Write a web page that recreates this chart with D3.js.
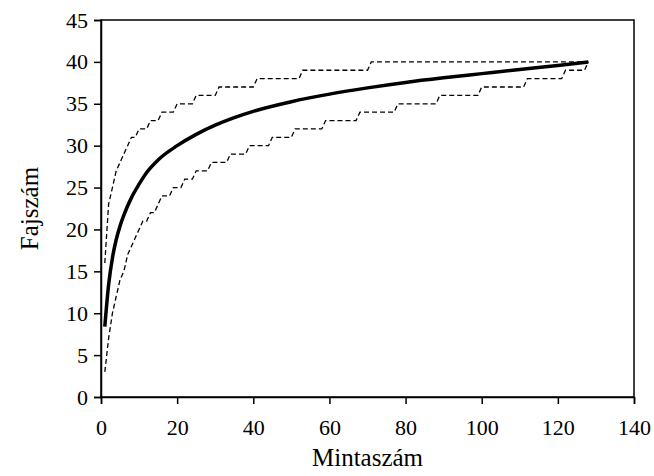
<!DOCTYPE html>
<html>
<head>
<meta charset="utf-8">
<script src="https://cdn.jsdelivr.net/npm/d3@7"></script>
<style>
    body { margin: 0; background: #fff; }
</style>
</head>
<body>
<div id="chart"></div>
<script>
// mean species accumulation curve (sample count, species count)
var meanCurve = [
    [1, 8.4], [2, 13.4], [3, 16.6], [4, 18.8], [5, 20.4], [6, 21.7], [8, 23.8],
    [10, 25.4], [12, 26.8], [15, 28.3], [20, 30.0], [25, 31.35], [30, 32.45],
    [35, 33.35], [40, 34.1], [50, 35.25], [60, 36.15], [70, 36.9], [80, 37.55],
    [90, 38.1], [100, 38.6], [110, 39.1], [120, 39.58], [128, 40]
];

// upper confidence bound (vertices of the step line)
var upperBound = [
    [1, 16], [2, 23], [3, 25], [4, 27], [5, 28], [6, 29], [7, 30], [8, 31],
    [9, 31], [10, 32], [12, 32], [13, 33], [15, 33], [16, 34], [19, 34],
    [20, 35], [24, 35], [25, 36], [30, 36], [31, 37], [40, 37], [41, 38],
    [52, 38], [53, 39], [70, 39], [71, 40], [128, 40]
];

// lower confidence bound (vertices of the step line)
var lowerBound = [
    [1, 3], [2, 7], [3, 10], [4, 12], [5, 14], [6, 15], [7, 17], [8, 18],
    [9, 19], [10, 20], [11, 21], [12, 21], [13, 22], [14, 22], [15, 23],
    [16, 24], [18, 24], [19, 25], [21, 25], [22, 26], [24, 26], [25, 27],
    [28, 27], [29, 28], [33, 28], [34, 29], [38, 29], [39, 30], [44, 30],
    [45, 31], [50, 31], [51, 32], [58, 32], [59, 33], [67, 33], [68, 34],
    [77, 34], [78, 35], [88, 35], [89, 36], [99, 36], [100, 37], [111, 37],
    [112, 38], [121, 38], [122, 39], [127, 39], [128, 40]
];

var xTicks = [0, 20, 40, 60, 80, 100, 120, 140];
var yTicks = [0, 5, 10, 15, 20, 25, 30, 35, 40, 45];
var xTitle = "Mintaszám";
var yTitle = "Fajszám";

var serif = "Liberation Serif";

var margin = { top: 20, right: 20, bottom: 79, left: 101 };
var width = 654 - margin.left - margin.right;
var height = 476 - margin.top - margin.bottom;

var svg = d3.select("#chart").append("svg")
    .attr("width", 654)
    .attr("height", 476)
    .append("g")
    .attr("transform", "translate(" + margin.left + "," + margin.top + ")");

var x = d3.scaleLinear().domain([0, 140]).range([0, width]);
var y = d3.scaleLinear().domain([0, 45]).range([height, 0]);

// frame
svg.append("rect")
    .attr("width", width)
    .attr("height", height)
    .attr("fill", "none")
    .attr("stroke", "#000")
    .attr("stroke-width", 1.5);

// axes
var xAxis = svg.append("g")
    .attr("transform", "translate(0," + height + ")")
    .call(d3.axisBottom(x).tickValues(xTicks).tickSize(7).tickPadding(15));

var yAxis = svg.append("g")
    .call(d3.axisLeft(y).tickValues(yTicks).tickSize(7).tickPadding(6));

[xAxis, yAxis].forEach(function (a) {
    a.attr("font-family", serif).attr("font-size", 22);
    a.select(".domain").attr("stroke", "#000").attr("stroke-width", 1.5);
    a.selectAll(".tick line").attr("stroke", "#000").attr("stroke-width", 1.5);
    a.selectAll(".tick text").attr("fill", "#000");
});

// lines
var line = d3.line()
    .x(function (d) { return x(d[0]); })
    .y(function (d) { return y(d[1]); });

[upperBound, lowerBound].forEach(function (b) {
    svg.append("path")
        .datum(b)
        .attr("d", line)
        .attr("fill", "none")
        .attr("stroke", "#000")
        .attr("stroke-width", 1.3)
        .attr("stroke-dasharray", "5,3");
});

svg.append("path")
    .datum(meanCurve)
    .attr("d", line.curve(d3.curveMonotoneX))
    .attr("fill", "none")
    .attr("stroke", "#000")
    .attr("stroke-width", 3.5);

// axis titles
svg.append("text")
    .attr("x", width / 2)
    .attr("y", height + 69)
    .attr("text-anchor", "middle")
    .attr("font-family", serif)
    .attr("font-size", 25)
    .text(xTitle);

svg.append("text")
    .attr("transform", "translate(" + (-63) + "," + (height / 2) + ") rotate(-90)")
    .attr("text-anchor", "middle")
    .attr("font-family", serif)
    .attr("font-size", 25)
    .text(yTitle);
</script>
</body>
</html>
